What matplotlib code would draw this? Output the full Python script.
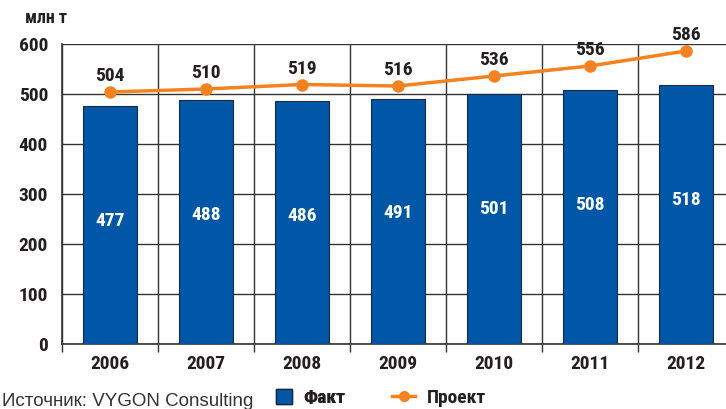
import matplotlib
matplotlib.use('Agg')
import matplotlib.pyplot as plt
from matplotlib.lines import Line2D
from matplotlib.patches import Patch

plt.rcParams['font.family'] = ['Roboto Condensed', 'DejaVu Sans']

years = ['2006', '2007', '2008', '2009', '2010', '2011', '2012']
fact = [477, 488, 486, 491, 501, 508, 518]
project = [504, 510, 519, 516, 536, 556, 586]

BLUE = '#0057A8'
ORANGE = '#F5821F'
GRID = '#333333'
TXT = '#231F20'

fig = plt.figure(figsize=(7.26, 4.09), dpi=100)
ax = fig.add_axes([62 / 726, 65 / 409, 672 / 726, 300 / 409])

x = list(range(len(years)))
ax.bar(x, fact, width=0.56, color=BLUE, edgecolor='#1a2a40', linewidth=0.8, zorder=3)
ax.plot(x, project, color=ORANGE, lw=2.5, marker='o', ms=8, zorder=4)

for xi, v in zip(x, fact):
    ax.text(xi, v - 230, str(v), color='white', ha='center', va='center',
            fontsize=14, fontweight='bold', zorder=5)
for xi, v in zip(x, project):
    ax.text(xi, v + 14, str(v), color=TXT, ha='center', va='bottom',
            fontsize=14, fontweight='bold', zorder=5)

ax.set_xlim(-0.5, 6.5)
ax.set_ylim(0, 600)
ax.set_yticks(range(0, 601, 100))
ax.set_xticks([i - 0.5 for i in range(8)], minor=False)
ax.set_xticklabels([])
ax.set_xticks(x, minor=True)
ax.set_xticklabels(years, minor=True)
ax.tick_params(axis='x', which='minor', length=0, pad=8, labelsize=14, labelcolor=TXT)
ax.tick_params(axis='x', which='major', length=6, width=1, color=GRID, direction='out')
ax.tick_params(axis='y', length=0, pad=10, labelsize=14, labelcolor=TXT)
for lbl in ax.get_xticklabels(minor=True) + ax.get_yticklabels():
    lbl.set_fontweight('bold')

ax.grid(True, which='major', color=GRID, lw=1, zorder=0)
for s in ['top', 'right']:
    ax.spines[s].set_visible(False)
for s in ['left', 'bottom']:
    ax.spines[s].set_color(GRID)
    ax.spines[s].set_linewidth(1.2)

fig.text(25 / 726, 1 - 18 / 409, 'млн т', fontsize=13, fontweight='bold',
         color=TXT, va='center', ha='left')
fig.text(2 / 726, 1 - 401 / 409, 'Источник: VYGON Consulting', fontsize=13.5,
         color='#333333', va='center', ha='left', family=['Liberation Sans', 'DejaVu Sans'])

# two separate legends so each handle gets its own length
leg1 = fig.legend(handles=[Patch(facecolor=BLUE, edgecolor='#1a2a40', label='Факт')],
                  loc='center left', bbox_to_anchor=(276 / 726, 1 - 398 / 409),
                  frameon=False, fontsize=14, handlelength=0.8, handleheight=0.8,
                  handletextpad=0.6, borderaxespad=0, borderpad=0)
leg2 = fig.legend(handles=[Line2D([0], [0], color=ORANGE, lw=2.5, marker='o', ms=7, label='Проект')],
                  loc='center left', bbox_to_anchor=(392 / 726, 1 - 398 / 409),
                  frameon=False, fontsize=14, handlelength=1.2,
                  handletextpad=0.6, borderaxespad=0, borderpad=0)
fig.add_artist(leg1)
for leg in (leg1, leg2):
    for t in leg.get_texts():
        t.set_fontweight('bold')
        t.set_color(TXT)

fig.savefig('out.png', dpi=100)
